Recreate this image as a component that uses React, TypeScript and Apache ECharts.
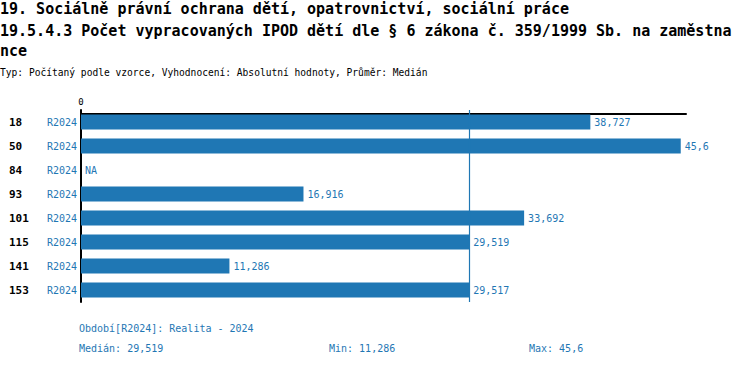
import React, { useEffect, useRef } from "react";
import * as echarts from "echarts";

const titleLine1 = "19. Sociálně právní ochrana dětí, opatrovnictví, sociální práce";
const titleLine2 = "19.5.4.3 Počet vypracovaných IPOD dětí dle § 6 zákona č. 359/1999 Sb. na zaměstna";
const titleLine3 = "nce";
const subtitle = "Typ: Počítaný podle vzorce, Vyhodnocení: Absolutní hodnoty, Průměr: Medián";
const periodNote = "Období[R2024]: Realita - 2024";

const categories = ["18", "50", "84", "93", "101", "115", "141", "153"];
const periodLabel = "R2024";
const values: (number | null)[] = [38.727, 45.6, null, 16.916, 33.692, 29.519, 11.286, 29.517];
const axisMax = 46;
const xTicks = [0];

const BLUE = "#1f77b4";
const MONO = "'DejaVu Sans Mono', 'Liberation Mono', monospace";

const fmt = (v: number) => String(v).replace(".", ",");

export default function App() {
  const ref = useRef<HTMLDivElement>(null);
  useEffect(() => {
    document.body.style.margin = "0";
    if (!ref.current) return;
    const chart = echarts.init(ref.current, undefined, { renderer: "svg" });

    const valid = values.filter((v): v is number => v !== null).sort((a, b) => a - b);
    const mid = Math.floor(valid.length / 2);
    const median = valid.length % 2 ? valid[mid] : (valid[mid - 1] + valid[mid]) / 2;
    const minV = valid[0];
    const maxV = valid[valid.length - 1];

    const seriesData = values.map((v) =>
      v === null
        ? { value: 0, label: { formatter: "NA" } }
        : { value: v }
    );

    chart.setOption({
      animation: false,
      grid: { left: 81, right: 64, top: 110, bottom: 64, containLabel: false },
      xAxis: {
        type: "value",
        position: "top",
        min: 0,
        max: axisMax,
        interval: axisMax,
        offset: -4,
        axisLine: { show: true, lineStyle: { color: "#000", width: 2 } },
        axisTick: { show: false },
        splitLine: { show: false },
        axisLabel: {
          show: true,
          margin: 8,
          fontFamily: MONO,
          fontSize: 9,
          color: "#000",
          formatter: (v: number) => (xTicks.includes(v) ? String(v) : ""),
        },
      },
      yAxis: {
        type: "category",
        data: categories,
        inverse: true,
        axisLine: { show: true, lineStyle: { color: "#000", width: 2 } },
        axisTick: { show: false },
        splitLine: { show: false },
        axisLabel: {
          margin: 4,
          formatter: (c: string) => `{n|${c}}{r|${periodLabel}}`,
          rich: {
            n: {
              width: 38,
              align: "left",
              fontFamily: MONO,
              fontWeight: "bold",
              fontSize: 11,
              color: "#000",
            },
            r: {
              align: "right",
              fontFamily: MONO,
              fontSize: 10,
              color: BLUE,
            },
          },
        },
      },
      series: [
        {
          type: "bar",
          data: seriesData,
          barWidth: 15,
          itemStyle: { color: BLUE },
          label: {
            show: true,
            position: "right",
            distance: 4,
            fontFamily: MONO,
            fontSize: 10,
            color: BLUE,
            formatter: (p: any) => fmt(p.value),
          },
          markLine: {
            silent: true,
            symbol: "none",
            label: { show: false },
            itemStyle: { color: BLUE },
            lineStyle: { color: BLUE, width: 1.2, type: "solid", opacity: 1 },
            data: [{ xAxis: median, lineStyle: { color: BLUE } }],
          },
        },
      ],
      graphic: [
        {
          type: "text",
          x: 0,
          y: 9,
          style: { text: titleLine1, fontFamily: MONO, fontWeight: "bold", fontSize: 15, fill: "#000", verticalAlign: "middle" },
        },
        {
          type: "text",
          x: 0,
          y: 30.5,
          style: { text: titleLine2, fontFamily: MONO, fontWeight: "bold", fontSize: 15, fill: "#000", verticalAlign: "middle" },
        },
        {
          type: "text",
          x: 0,
          y: 51,
          style: { text: titleLine3, fontFamily: MONO, fontWeight: "bold", fontSize: 15, fill: "#000", verticalAlign: "middle" },
        },
        {
          type: "text",
          x: 0,
          y: 72,
          style: { text: subtitle, fontFamily: MONO, fontSize: 9.6, fill: "#000", verticalAlign: "middle" },
        },
        {
          type: "text",
          x: 79,
          y: 328.5,
          style: { text: periodNote, fontFamily: MONO, fontSize: 10, fill: BLUE, verticalAlign: "middle" },
        },
        {
          type: "text",
          x: 79,
          y: 348.5,
          style: { text: `Medián: ${fmt(median)}`, fontFamily: MONO, fontSize: 10, fill: BLUE, verticalAlign: "middle" },
        },
        {
          type: "text",
          x: 329,
          y: 348.5,
          style: { text: `Min: ${fmt(minV)}`, fontFamily: MONO, fontSize: 10, fill: BLUE, verticalAlign: "middle" },
        },
        {
          type: "text",
          x: 529,
          y: 348.5,
          style: { text: `Max: ${fmt(maxV)}`, fontFamily: MONO, fontSize: 10, fill: BLUE, verticalAlign: "middle" },
        },
      ],
    });
    return () => chart.dispose();
  }, []);
  return <div ref={ref} style={{ width: 750, height: 366 }} />;
}
